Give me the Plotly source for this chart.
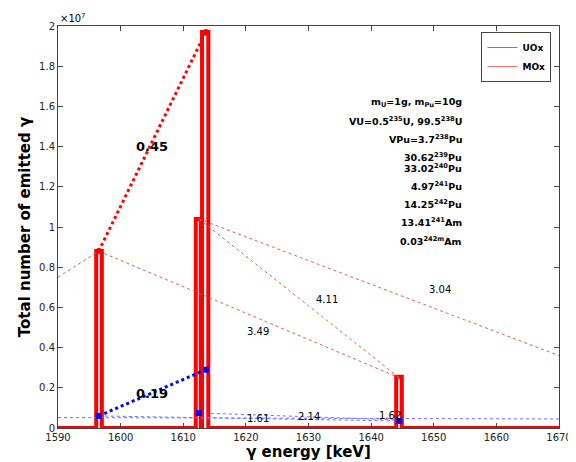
import plotly.graph_objects as go

peak_lo = [1596.1, 1612.0, 1613.0, 1644.0]
peak_hi = [1597.0, 1612.8, 1614.0, 1644.9]
peak_h = [0.88e7, 1.04e7, 1.97e7, 0.255e7]
u_x = [1596.5, 1612.5, 1613.6, 1644.5]
u_y = [0.06e7, 0.075e7, 0.29e7, 0.035e7]
info_lines = ["m<sub>U</sub>=1g, m<sub>Pu</sub>=10g", "VU=0.5<sup>235</sup>U, 99.5<sup>238</sup>U",
              "VPu=3.7<sup>238</sup>Pu", "30.62<sup>239</sup>Pu", "33.02<sup>240</sup>Pu", "4.97<sup>241</sup>Pu",
              "14.25<sup>242</sup>Pu", "13.41<sup>241</sup>Am", "0.03<sup>242m</sup>Am"]

fig = go.Figure()
xs, ys = [1590], [0]
for lo, hi, h in zip(peak_lo, peak_hi, peak_h):
    xs += [lo, lo, hi, hi]; ys += [0, h, h, 0]
xs.append(1670); ys.append(0)
fig.add_trace(go.Scatter(x=[1600], y=[-1e9], mode="lines", line=dict(color="#6f6fff", width=1), name="<b>UOx</b>"))
fig.add_trace(go.Scatter(x=[1600], y=[-1e9], mode="lines", line=dict(color="#ff6f6f", width=1), name="<b>MOx</b>"))
fig.add_trace(go.Scatter(x=xs, y=ys, mode="lines", line=dict(color="red", width=4), showlegend=False))
thin_red = [([1590, 1596.5], [0.75e7, 0.88e7]), ([1596.5, 1644.5], [0.88e7, 0.25e7]),
            ([1612.5, 1644.5], [1.04e7, 0.25e7]), ([1612.5, 1670], [1.04e7, 0.36e7])]
for lx, ly in thin_red:
    fig.add_trace(go.Scatter(x=lx, y=ly, mode="lines", line=dict(color="#e06060", width=1, dash="dot"), showlegend=False))
fig.add_trace(go.Scatter(x=[1596.5, 1613.6], y=[0.88e7, 1.97e7], mode="lines+markers",
                         marker=dict(color="red", size=6), line=dict(color="red", width=3, dash="dot"), showlegend=False))
thin_blue = [([1590, 1670], [0.052e7, 0.045e7]), ([1612.5, 1644.5], [0.075e7, 0.04e7]),
             ([1596.5, 1644.5], [0.06e7, 0.035e7])]
for lx, ly in thin_blue:
    fig.add_trace(go.Scatter(x=lx, y=ly, mode="lines", line=dict(color="#7070ff", width=1, dash="dot"), showlegend=False))
fig.add_trace(go.Scatter(x=[1596.5, 1613.6], y=[0.06e7, 0.29e7], mode="lines",
                         line=dict(color="blue", width=3, dash="dot"), showlegend=False))
fig.add_trace(go.Scatter(x=u_x, y=u_y, mode="markers", marker=dict(color="blue", size=6, symbol="square"), showlegend=False))

labels = [(1605, 1.4e7, "<b>0.45</b>", 13), (1605, 0.17e7, "<b>0.19</b>", 13),
          (1622, 0.48e7, "3.49", 10), (1633, 0.64e7, "4.11", 10), (1651, 0.69e7, "3.04", 10),
          (1622, 0.045e7, "1.61", 10), (1630, 0.055e7, "2.14", 10), (1643, 0.06e7, "1.62", 10)]
for x, y, t, s in labels:
    fig.add_annotation(x=x, y=y, text=t, showarrow=False, font=dict(size=s, color="black"))
for i, t in enumerate(info_lines):
    fig.add_annotation(xref="paper", yref="paper", x=0.81, y=0.83 - i*0.0455, text="<b>" + t + "</b>",
                       showarrow=False, font=dict(size=9.5, color="black"), align="center")
fig.add_annotation(xref="paper", yref="paper", x=0.0, y=1.0, text="×10<sup>7</sup>", showarrow=False,
                   xanchor="left", yanchor="bottom", font=dict(size=10, color="black"))

ax = dict(showline=True, linecolor="#444", mirror="ticks", ticks="inside", ticklen=5, showgrid=False,
          zeroline=False, tickfont=dict(size=10, color="#222"))
fig.update_layout(width=576, height=462, plot_bgcolor="white", paper_bgcolor="white",
                  margin=dict(l=50, r=13, t=18, b=33), font=dict(family="DejaVu Sans", color="black"),
                  xaxis=dict(range=[1590, 1670], dtick=10, title=dict(text="<b>γ energy [keV]</b>", standoff=4, font=dict(size=15)), **ax),
                  yaxis=dict(range=[0, 2e7], tickvals=[i*0.2e7 for i in range(11)],
                             ticktext=["0", "0.2", "0.4", "0.6", "0.8", "1", "1.2", "1.4", "1.6", "1.8", "2"],
                             title=dict(text="<b>Total number of emitted γ</b>", standoff=4, font=dict(size=15)), **ax),
                  legend=dict(x=0.985, y=0.985, xanchor="right", yanchor="top", bordercolor="#444", borderwidth=1,
                              font=dict(size=9)))
fig.write_html("out.html")
